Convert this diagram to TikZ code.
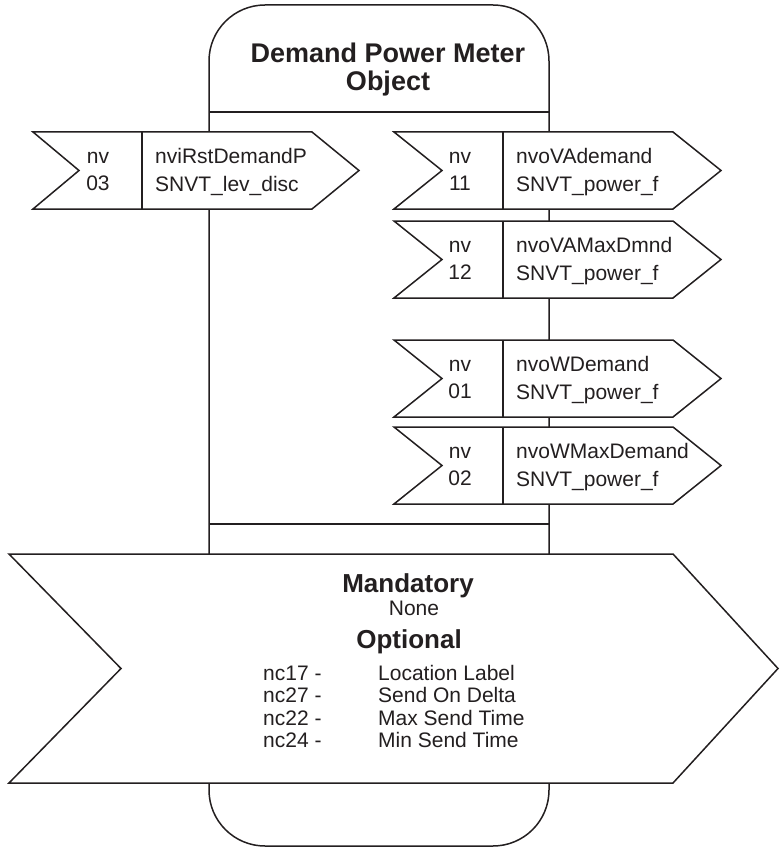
\documentclass[tikz,border=0pt]{standalone}
\usepackage{fontspec}
\setmainfont{Liberation Sans}
\usepackage{tikz}

\definecolor{ink}{HTML}{231F20}

\tikzset{
  outline/.style={draw=ink, line width=1.5pt},
  nvfont/.style={font=\fontsize{21}{24}\selectfont, text=ink, inner sep=0pt},
  headfont/.style={font=\bfseries\fontsize{27}{30}\selectfont, text=ink, inner sep=0pt},
  secfont/.style={font=\bfseries\fontsize{26}{28}\selectfont, text=ink, inner sep=0pt}
}

\begin{document}
\begin{tikzpicture}[x=1pt, y=-1pt]
        \useasboundingbox (0, 0) rectangle (779, 848);

        % object body
        \draw[outline, rounded corners=56pt] (209, 846) -- (209, 5) -- (549, 5) -- (549, 846) -- cycle;
        \draw[outline] (209, 112) -- (549, 112);
        \draw[outline] (209, 524) -- (549, 524);
        \node[headfont, anchor=base] (title1) at (388, 63) {Demand Power Meter};
        \node[headfont, anchor=base] (title2) at (388, 91) {Object};

        % input nv
        \draw[outline, fill=white] (33, 132) -- (79, 170.5) -- (33, 209) -- (312, 209) -- (359, 170.5) -- (312, 132) -- cycle;
        \draw[outline] (142, 132) -- (142, 209);
        \node[nvfont, anchor=base] (nv03) at (98, 163) {nv};
        \node[nvfont, anchor=base] (num03) at (98, 190) {03};
        \node[nvfont, anchor=base west] (name03) at (155, 163) {nviRstDemandP};
        \node[nvfont, anchor=base west] (type03) at (155, 191) {SNVT\_lev\_disc};

        % output nvs
        \foreach \t/\n/\nm in {132/11/nvoVAdemand, 221/12/nvoVAMaxDmnd, 340/01/nvoWDemand, 427/02/nvoWMaxDemand} {
            \draw[outline, fill=white] (394, \t) -- (442, \t+38.5) -- (394, \t+77) -- (673, \t+77) -- (721, \t+38.5) -- (673, \t) -- cycle;
            \draw[outline] (503, \t) -- (503, \t+77);
            \node[nvfont, anchor=base] (nv\n) at (460, \t+31) {nv};
            \node[nvfont, anchor=base] (num\n) at (460, \t+58) {\n};
            \node[nvfont, anchor=base west] (name\n) at (516, \t+31) {\nm};
            \node[nvfont, anchor=base west] (type\n) at (516, \t+59) {SNVT\_power\_f};
        }

        % configuration properties
        \draw[outline, fill=white] (9, 554) -- (121, 668.5) -- (9, 783) -- (673, 783) -- (778, 668.5) -- (673, 554) -- cycle;
        \node[secfont, anchor=base] (mand) at (408, 592) {Mandatory};
        \node[nvfont, anchor=base] (none) at (414, 615) {None};
        \node[secfont, anchor=base] (opt) at (409, 648) {Optional};
        \foreach \y/\nc/\lbl in {680/17/Location Label, 702.5/27/Send On Delta, 725/22/Max Send Time, 747.5/24/Min Send Time} {
            \node[nvfont, anchor=base west] (nc\nc) at (263, \y) {nc\nc\ -};
            \node[nvfont, anchor=base west] (lbl\nc) at (378, \y) {\lbl};
        }
\end{tikzpicture}
\end{document}
